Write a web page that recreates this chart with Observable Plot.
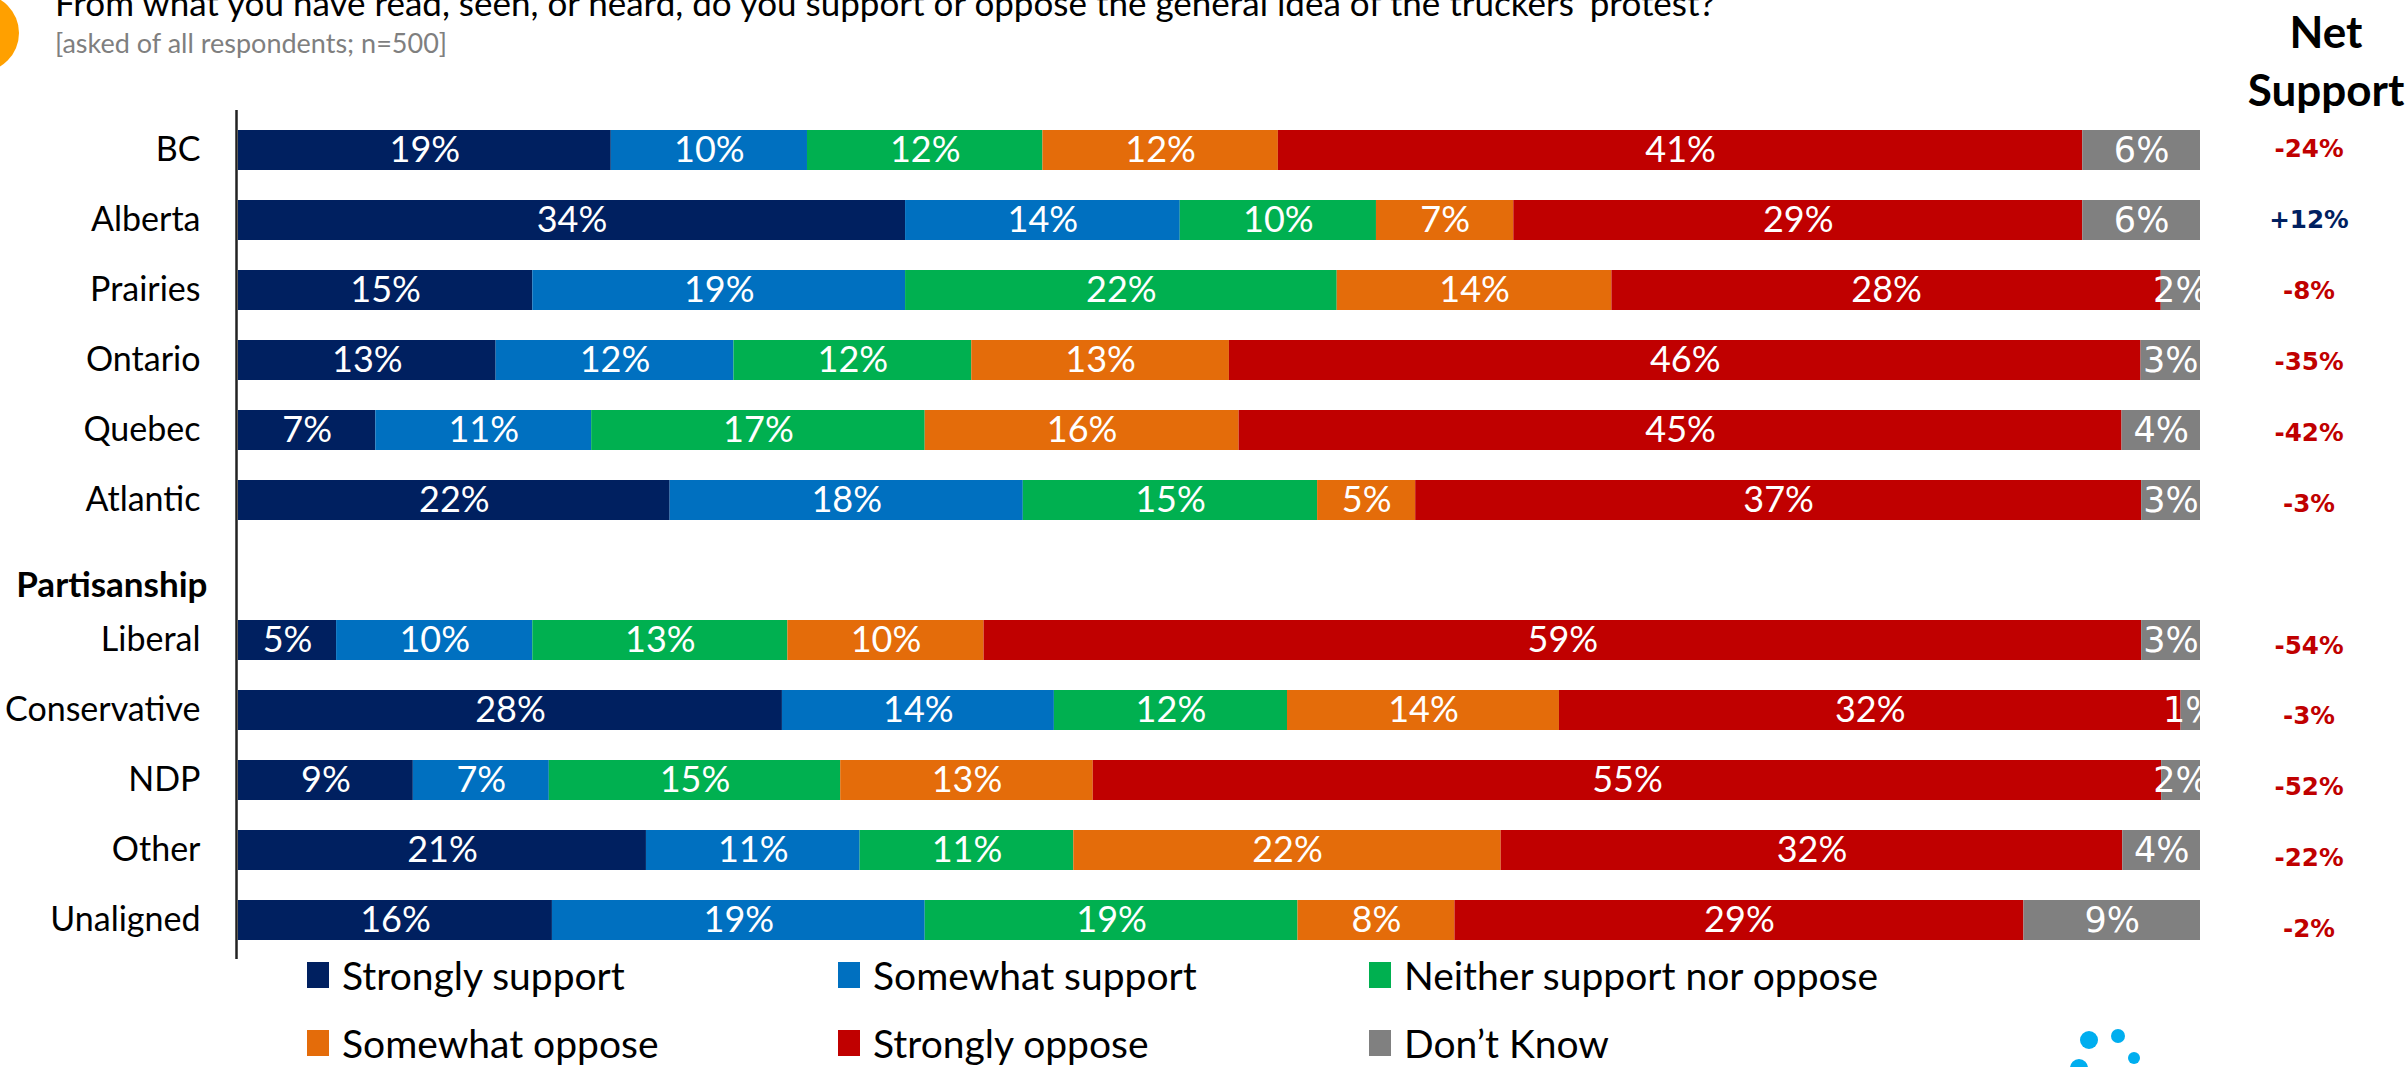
<!DOCTYPE html>
<html>
<head>
<meta charset="utf-8">
<script src="https://cdn.jsdelivr.net/npm/d3@7"></script>
<script src="https://cdn.jsdelivr.net/npm/@observablehq/plot@0.6"></script>
<style>
  html, body { margin: 0; padding: 0; background: #fff; }
  body { width: 2407px; height: 1067px; position: relative; overflow: hidden; font-family: Lato, "Open Sans", sans-serif; }
  #chart { position: absolute; left: 0; top: 0; z-index: 0; }
  #netchart { position: absolute; left: 2210px; top: 0; z-index: 0; }
  #circle { position: absolute; left: -59px; top: -6px; width: 78px; height: 78px; border-radius: 50%; background: #FFA000; z-index: 1; }
  #title { position: absolute; left: 55px; top: -15px; font-size: 35px; line-height: 35px; color: #000; white-space: nowrap; z-index: 2; }
  #subtitle { position: absolute; left: 55px; top: 29px; font-size: 27px; line-height: 27px; color: #7f7f7f; white-space: nowrap; z-index: 2; }
  #net { position: absolute; left: 2226px; top: 2px; width: 200px; text-align: center; font-size: 44px; line-height: 58px; font-weight: 700; color: #000; z-index: 2; }
  #legend { position: absolute; left: 307px; top: 941px; display: grid; grid-template-columns: 531px 531px 531px; grid-auto-rows: 68px; z-index: 2; }
  .item { display: flex; align-items: center; font-size: 39px; color: #000; white-space: nowrap; }
  .sw { width: 22px; height: 26px; margin-right: 13px; flex: none; }
  #logo { position: absolute; left: 0; top: 0; z-index: 1; }
</style>
</head>
<body>
<div id="chart"></div>
<div id="netchart"></div>
<div id="circle"></div>
<div id="title">From what you have read, seen, or heard, do you support or oppose the general idea of the truckers’ protest?</div>
<div id="subtitle">[asked of all respondents; n=500]</div>
<div id="net">Net<br>Support</div>
<div id="legend"></div>
<svg id="logo" width="2407" height="1067" style="pointer-events:none">
  <circle cx="2089" cy="1040" r="9" fill="#00AEEF"/>
  <circle cx="2118" cy="1036" r="7" fill="#00AEEF"/>
  <circle cx="2134" cy="1058" r="6" fill="#00AEEF"/>
  <circle cx="2079" cy="1068" r="9" fill="#00AEEF"/>
</svg>
<script>
const groups = ["BC", "Alberta", "Prairies", "Ontario", "Quebec", "Atlantic", "Partisanship", "Liberal", "Conservative", "NDP", "Other", "Unaligned"];
const responses = ["Strongly support", "Somewhat support", "Neither support nor oppose", "Somewhat oppose", "Strongly oppose", "Don’t Know"];
const colors = ["#002060", "#0070C0", "#00B050", "#E46C0A", "#C00000", "#808080"];

const stronglySupport = [19, 34, 15, 13, 7, 22, null, 5, 28, 9, 21, 16];
const somewhatSupport = [10, 14, 19, 12, 11, 18, null, 10, 14, 7, 11, 19];
const neither         = [12, 10, 22, 12, 17, 15, null, 13, 12, 15, 11, 19];
const somewhatOppose  = [12, 7, 14, 13, 16, 5, null, 10, 14, 13, 22, 8];
const stronglyOppose  = [41, 29, 28, 46, 45, 37, null, 59, 32, 55, 32, 29];
const dontKnow        = [6, 6, 2, 3, 4, 3, null, 3, 1, 2, 4, 9];
const netSupport      = [-24, 12, -8, -35, -42, -3, null, -54, -3, -52, -22, -2];

const DK = "Don’t Know";
const series = [stronglySupport, somewhatSupport, neither, somewhatOppose, stronglyOppose, dontKnow];
const data = [];
groups.forEach((g, i) => {
  series.forEach((s, j) => {
    if (s[i] != null) data.push({group: g, response: responses[j], value: s[i]});
  });
});
const netData = groups.map((g, i) => ({group: g, net: netSupport[i]})).filter(d => d.net != null);

const stackOpts = {x: "value", y: "group", z: "response", order: responses, offset: "normalize"};

const chart = Plot.plot({
  width: 2407,
  height: 965,
  marginTop: 110,
  marginBottom: 6,
  marginLeft: 238,
  marginRight: 207,
  style: {fontFamily: "Lato, sans-serif", background: "transparent", color: "#000"},
  x: {axis: null},
  y: {domain: groups, paddingInner: 0.433, paddingOuter: 0.238, axis: null},
  color: {domain: responses, range: colors},
  marks: [
    Plot.barX(data, Plot.stackX({...stackOpts, fill: "response"})),
    Plot.text(data, Plot.stackX({...stackOpts, text: d => d.response !== DK ? d.value + "%" : "", fill: "white", fontSize: 36})),
    Plot.text(data, Plot.stackX({...stackOpts, text: d => d.response === DK ? d.value + "%" : "", fill: "white", fontSize: 35, fontFamily: "DejaVu Sans"})),
    Plot.ruleX([0], {stroke: "#222", strokeWidth: 2.5, dx: -2}),
    Plot.axisY({tickSize: 0, tickPadding: 38, fontSize: 34, label: null, tickFormat: d => d === "Partisanship" ? "" : d}),
    Plot.text(["Partisanship"], {y: d => d, text: d => d, frameAnchor: "left", textAnchor: "end", dx: -31, dy: 15, fontWeight: "bold", fontSize: 35})
  ]
});
document.getElementById("chart").appendChild(chart);

// Net support column (its rows sit slightly lower and wider-spaced than the bars)
const netChart = Plot.plot({
  width: 200,
  height: 975,
  marginTop: 150,
  marginBottom: 32,
  marginLeft: 0,
  marginRight: 0,
  style: {fontFamily: "DejaVu Sans, sans-serif", background: "transparent"},
  x: {axis: null},
  y: {type: "point", domain: groups, padding: 0, axis: null},
  marks: [
    Plot.text(netData.filter(d => d.net < 0), {y: "group", text: d => d.net + "%", frameAnchor: "middle", fill: "#C00000", fontWeight: "bold", fontSize: 25}),
    Plot.text(netData.filter(d => d.net > 0), {y: "group", text: d => "+" + d.net + "%", frameAnchor: "middle", fill: "#002060", fontWeight: "bold", fontSize: 25})
  ]
});
document.getElementById("netchart").appendChild(netChart);

const legend = document.getElementById("legend");
responses.forEach((r, i) => {
  const item = document.createElement("div");
  item.className = "item";
  const sw = document.createElement("span");
  sw.className = "sw";
  sw.style.background = colors[i];
  item.appendChild(sw);
  item.appendChild(document.createTextNode(r));
  legend.appendChild(item);
});
</script>
</body>
</html>
